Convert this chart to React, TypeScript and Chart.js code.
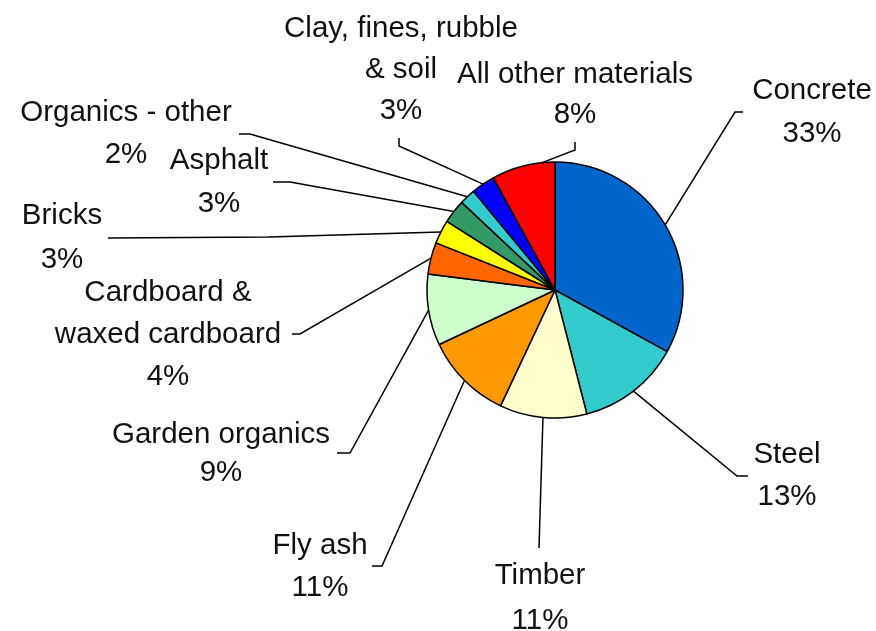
import React, { useEffect, useRef } from "react";
import { Chart, registerables } from "chart.js";

Chart.register(...registerables);

// ---- data ----
const categories = [
  "Concrete",
  "Steel",
  "Timber",
  "Fly ash",
  "Garden organics",
  "Cardboard & waxed cardboard",
  "Bricks",
  "Asphalt",
  "Organics - other",
  "Clay, fines, rubble & soil",
  "All other materials",
];
const shares = [33, 13, 11, 11, 9, 4, 3, 3, 2, 3, 8];
const labelLines = [
  ["Concrete"],
  ["Steel"],
  ["Timber"],
  ["Fly ash"],
  ["Garden organics"],
  ["Cardboard &", "waxed cardboard"],
  ["Bricks"],
  ["Asphalt"],
  ["Organics - other"],
  ["Clay, fines, rubble", "& soil"],
  ["All other materials"],
];
const sliceColors = [
  "#0066CC",
  "#33CCCC",
  "#FFFFCC",
  "#FF9900",
  "#CCFFCC",
  "#FF6600",
  "#FFFF00",
  "#339966",
  "#33CCCC",
  "#0000FF",
  "#FF0000",
];

// ---- label layout (text centre x, first baseline y, line gap; leader polyline ending at the rim) ----
type LabelLayout = {
  x: number;
  y: number;
  gap: number;
  leader: [number, number][];
  t?: number;
};
const labelLayout: LabelLayout[] = [
  { x: 812, y: 99, gap: 43, leader: [[743, 112], [735, 112]] },
  { x: 787, y: 463, gap: 42, leader: [[748, 476], [737, 476]] },
  { x: 540, y: 584, gap: 45, leader: [[539, 548]] },
  { x: 320, y: 554, gap: 42, leader: [[372, 566], [382, 566]] },
  { x: 221, y: 443, gap: 38, leader: [[337, 453], [350, 453]] },
  { x: 168, y: 301, gap: 42, leader: [[292, 334], [300, 334]] },
  { x: 62, y: 224, gap: 44, leader: [[108, 238], [268, 237]] },
  { x: 219, y: 169, gap: 43, leader: [[273, 182], [290, 182]] },
  { x: 126, y: 121, gap: 42, leader: [[239, 134], [250, 134]] },
  { x: 401, y: 37, gap: 41, leader: [[399, 138], [399, 146]] },
  { x: 575, y: 83, gap: 40, leader: [[575, 142], [575, 150]], t: 0.8 },
];

const FONT = '29.5px "Liberation Sans", Arial, Helvetica, sans-serif';

const labelPlugin = {
  id: "outsideLabels",
  afterDatasetsDraw(chart: any) {
    const ctx: CanvasRenderingContext2D = chart.ctx;
    const meta = chart.getDatasetMeta(0);
    ctx.save();
    meta.data.forEach((arc: any, i: number) => {
      const lay = labelLayout[i];
      const p = arc.getProps(["x", "y", "startAngle", "endAngle", "outerRadius"], true);
      const t = lay.t ?? 0.5;
      const a = p.startAngle + (p.endAngle - p.startAngle) * t;
      const rx = p.x + Math.cos(a) * p.outerRadius;
      const ry = p.y + Math.sin(a) * p.outerRadius;
      ctx.beginPath();
      ctx.strokeStyle = "#000";
      ctx.lineWidth = 1.5;
      lay.leader.forEach(([lx, ly], k) => {
        if (k === 0) ctx.moveTo(lx, ly);
        else ctx.lineTo(lx, ly);
      });
      ctx.lineTo(rx, ry);
      ctx.stroke();

      ctx.fillStyle = "#111";
      ctx.font = FONT;
      ctx.textAlign = "center";
      ctx.textBaseline = "alphabetic";
      const lines = [...labelLines[i], `${shares[i]}%`];
      lines.forEach((ln, k) => {
        ctx.fillText(ln, lay.x, lay.y + k * lay.gap);
      });
    });
    ctx.restore();
  },
};

export default function App() {
  const ref = useRef<HTMLCanvasElement | null>(null);
  useEffect(() => {
    document.body.style.margin = "0";
    if (!ref.current) return;
    const chart = new Chart(ref.current, {
      type: "pie",
      data: {
        labels: categories,
        datasets: [
          {
            data: shares,
            backgroundColor: sliceColors,
            borderColor: "#000",
            borderWidth: 1.5,
            radius: 128,
          } as any,
        ],
      },
      options: {
        responsive: false,
        animation: false,
        layout: { padding: { left: 427, right: 193, top: 162, bottom: 213 } },
        plugins: {
          legend: { display: false },
          tooltip: { enabled: false },
        },
      },
      plugins: [labelPlugin],
    });
    return () => chart.destroy();
  }, []);
  return (
    <div style={{ width: 876, height: 631, background: "#fff" }}>
      <canvas ref={ref} width={876} height={631} style={{ display: "block" }} />
    </div>
  );
}
